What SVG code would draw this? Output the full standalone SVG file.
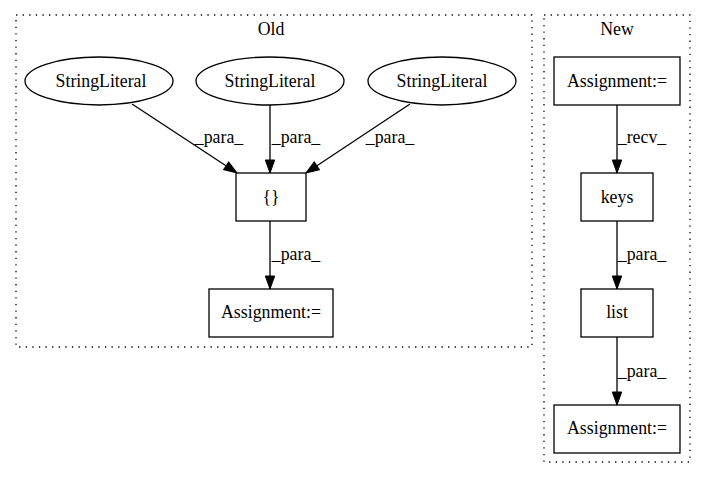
<svg xmlns="http://www.w3.org/2000/svg" width="707" height="480" viewBox="0 0 707 480">
<defs>
<marker id="arr" markerUnits="userSpaceOnUse" markerWidth="14" markerHeight="10" refX="13" refY="4.7" orient="auto" overflow="visible">
<path d="M0,0 L13,4.7 L0,9.4 z" fill="#000" stroke="#000" stroke-width="1"/>
</marker>
</defs>
<style>
text{font-family:"Liberation Serif","Times New Roman",serif;font-size:17.8px;fill:#000;text-anchor:middle}
.cl{fill:none;stroke:#000;stroke-dasharray:1.3,5.3;stroke-width:1.3}
.n{fill:#fff;stroke:#000;stroke-width:1.3}
.e{fill:none;stroke:#000;stroke-width:1.3;marker-end:url(#arr)}
</style>
<rect width="707" height="480" fill="#fff"/>
<g id="cluster_old">
<rect class="cl" x="16" y="15" width="516" height="332"/>
<text x="271" y="35">Old</text>
</g>
<g id="cluster_new">
<rect class="cl" x="544" y="15" width="146" height="447"/>
<text x="617" y="35">New</text>
</g>
<g id="edges">
<path class="e" d="M132,104 L237,173"/>
<path class="e" d="M270,105 L270,173"/>
<path class="e" d="M410,104 L306,173"/>
<path class="e" d="M270,221 L270,289"/>
<path class="e" d="M617,105 L617,173"/>
<path class="e" d="M617,221 L617,289"/>
<path class="e" d="M617,337 L617,405"/>
<text x="219" y="143">_para_</text>
<text x="296" y="143">_para_</text>
<text x="390" y="143">_para_</text>
<text x="296" y="260">_para_</text>
<text x="642" y="143">_recv_</text>
<text x="642" y="260">_para_</text>
<text x="642" y="377">_para_</text>
</g>
<g id="sl1">
<ellipse class="n" cx="99" cy="81" rx="74" ry="24"/>
<text x="101" y="87">StringLiteral</text>
</g>
<g id="sl2">
<ellipse class="n" cx="270" cy="81" rx="74" ry="24"/>
<text x="270" y="87">StringLiteral</text>
</g>
<g id="sl3">
<ellipse class="n" cx="442" cy="81" rx="74" ry="24"/>
<text x="442" y="87">StringLiteral</text>
</g>
<g id="braces">
<rect class="n" x="236" y="173" width="70" height="48"/>
<text x="271" y="203">{}</text>
</g>
<g id="assign_old">
<rect class="n" x="209" y="289" width="124" height="48"/>
<text x="271" y="318">Assignment:=</text>
</g>
<g id="assign_new1">
<rect class="n" x="554" y="57" width="126" height="48"/>
<text x="617" y="87">Assignment:=</text>
</g>
<g id="keys">
<rect class="n" x="581" y="173" width="72" height="48"/>
<text x="617" y="203">keys</text>
</g>
<g id="list">
<rect class="n" x="581" y="289" width="72" height="48"/>
<text x="617" y="318">list</text>
</g>
<g id="assign_new2">
<rect class="n" x="554" y="405" width="126" height="48"/>
<text x="617" y="434">Assignment:=</text>
</g>
</svg>
